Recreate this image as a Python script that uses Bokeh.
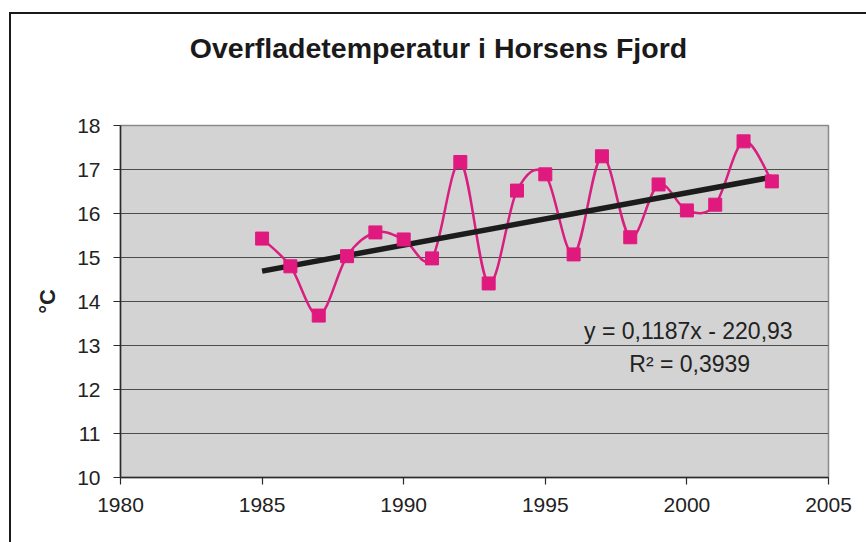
from bokeh.plotting import figure
from bokeh.models import Range1d, FixedTicker, Label, Div
from bokeh.layouts import column
from bokeh.embed import file_html
from bokeh.resources import INLINE

# ---- data ----
years = [1985, 1986, 1987, 1988, 1989, 1990, 1991, 1992, 1993, 1994,
         1995, 1996, 1997, 1998, 1999, 2000, 2001, 2002, 2003]
temps = [15.43, 14.80, 13.68, 15.03, 15.57, 15.41, 14.98, 17.17, 14.41, 16.52,
         16.89, 15.07, 17.30, 15.46, 16.66, 16.07, 16.20, 17.64, 16.73]
slope = 0.1187
intercept = -220.93
r2_text = "0,3939"
x_ticks = [1980, 1985, 1990, 1995, 2000, 2005]
y_ticks = [10, 11, 12, 13, 14, 15, 16, 17, 18]
title_text = "Overfladetemperatur i Horsens Fjord"
y_label = "°C"

FONT = "Liberation Sans"
W = 855
TITLE_H = 70
H = 528 - TITLE_H

title_div = Div(
    text=('<div style="width:828px;padding-left:27px;padding-top:18px;text-align:center;'
          'font-family:\'Liberation Sans\';font-size:28.5px;font-weight:bold;'
          'line-height:33px;color:#1a1a1a;white-space:nowrap;">' + title_text + '</div>'),
    width=W, height=TITLE_H, margin=0)

p = figure(width=W, height=H, output_backend="svg", toolbar_location=None,
           x_range=Range1d(1980, 2005), y_range=Range1d(10, 18),
           min_border_left=109, min_border_right=38, min_border_top=111 - TITLE_H,
           min_border_bottom=65, margin=0)

p.background_fill_color = "#d3d3d3"
p.border_fill_color = "white"
p.outline_line_color = "#8a8a8a"
p.outline_line_width = 1.5

# grid
p.xgrid.grid_line_color = None
p.ygrid.grid_line_color = "#4c4c4c"
p.ygrid.grid_line_width = 1
p.ygrid.ticker = FixedTicker(ticks=y_ticks)

# axes
p.xaxis.ticker = FixedTicker(ticks=x_ticks)
p.yaxis.ticker = FixedTicker(ticks=y_ticks)
for ax in (p.xaxis[0], p.yaxis[0]):
    ax.axis_line_color = "#2a2a2a"
    ax.axis_line_width = 1.5
    ax.major_tick_line_color = "#2a2a2a"
    ax.major_tick_line_width = 1.2
    ax.major_tick_in = 0
    ax.major_tick_out = 7
    ax.minor_tick_line_color = None
    ax.major_label_text_font = FONT
    ax.major_label_text_font_size = "21px"
    ax.major_label_text_color = "#222222"
p.xaxis.major_label_standoff = 13
p.yaxis.major_label_standoff = 13
p.yaxis.axis_label = y_label
p.yaxis.axis_label_text_font = FONT
p.yaxis.axis_label_text_font_size = "22px"
p.yaxis.axis_label_text_font_style = "bold"
p.yaxis.axis_label_text_color = "#222222"
p.yaxis.axis_label_standoff = 14

# smoothed line (Excel-style Bezier through the data points)
n = len(years)
x0, y0, x1, y1, cx0, cy0, cx1, cy1 = [], [], [], [], [], [], [], []
for i in range(n - 1):
    ip = max(i - 1, 0)
    inn = min(i + 2, n - 1)
    x0.append(years[i]); y0.append(temps[i])
    x1.append(years[i + 1]); y1.append(temps[i + 1])
    cx0.append(years[i] + (years[i + 1] - years[ip]) / 6)
    cy0.append(temps[i] + (temps[i + 1] - temps[ip]) / 6)
    cx1.append(years[i + 1] - (years[inn] - years[i]) / 6)
    cy1.append(temps[i + 1] - (temps[inn] - temps[i]) / 6)
p.bezier(x0=x0, y0=y0, x1=x1, y1=y1, cx0=cx0, cy0=cy0, cx1=cx1, cy1=cy1,
         line_color="#d81f7f", line_width=2.5)

# trend line
tx = [years[0], years[-1]]
ty = [slope * x + intercept for x in tx]
p.line(tx, ty, line_color="#1c1c1c", line_width=5.5)

# markers
p.scatter(years, temps, marker="square", size=13, fill_color="#e0197f",
          line_color="#e0197f")

# equation labels
eq = "y = " + f"{slope}".replace(".", ",") + "x - " + f"{-intercept}".replace(".", ",")
p.add_layout(Label(x=2000.05, y=13.34, text=eq, text_align="center",
                   text_baseline="middle", text_font=FONT, text_font_size="23px",
                   text_color="#222222"))
p.add_layout(Label(x=2000.1, y=12.59, text="R² = " + r2_text, text_align="center",
                   text_baseline="middle", text_font=FONT, text_font_size="23px",
                   text_color="#222222"))

layout = column(title_div, p, spacing=0,
                styles={"border-left": "2px solid #1a1a1a",
                        "border-top": "2px solid #1a1a1a",
                        "margin-top": "12px", "margin-left": "9px",
                        "background-color": "white"})

open("out.html", "w").write(file_html(layout, INLINE))
